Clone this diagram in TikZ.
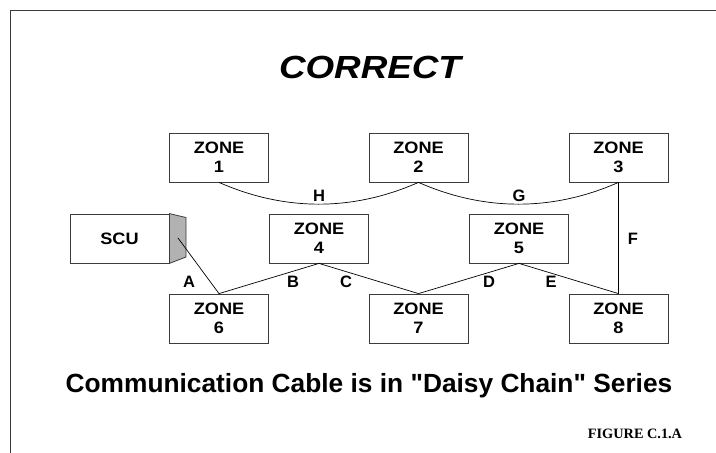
\documentclass[tikz,border=0pt]{standalone}
\usepackage{fontspec}
\setmainfont{Liberation Sans}[Ligatures=TeXOff]
\newfontfamily\zonefont{Liberation Sans}[FakeStretch=1.1]
\newfontfamily\titlefont{Liberation Sans}[FakeStretch=1.15]
\newfontfamily\figfont{Liberation Serif}
\definecolor{boxline}{RGB}{60,60,60}
\definecolor{facegray}{RGB}{178,178,178}
\begin{document}
\begin{tikzpicture}[x=1pt,y=-1pt,
  zonebox/.style={draw=boxline, line width=0.8pt, minimum width=99pt, minimum height=49pt,
    inner sep=0pt, align=center, font=\zonefont\bfseries\fontsize{16.5}{19}\selectfont},
  cable/.style={draw=black, line width=0.7pt},
  lbl/.style={anchor=base, inner sep=0pt, font=\bfseries\fontsize{16.5}{19}\selectfont},
  frameline/.style={draw=boxline, line width=0.9pt}]
\useasboundingbox (0,0) rectangle (716,453);
\draw[frameline] (10.5,453) -- (10.5,10.5) -- (716,10.5);

\node[anchor=base] (title) at (370,78) {\titlefont\bfseries\itshape\fontsize{32}{36}\selectfont CORRECT};

\node[zonebox] (z1) at (219,157.5) {ZONE\\1};
\node[zonebox] (z2) at (418.5,157.5) {ZONE\\2};
\node[zonebox] (z3) at (618.5,157.5) {ZONE\\3};
\node[zonebox] (z4) at (319,238.5) {ZONE\\4};
\node[zonebox] (z5) at (519,238.5) {ZONE\\5};
\node[zonebox] (z6) at (219,318.5) {ZONE\\6};
\node[zonebox] (z7) at (418.5,318.5) {ZONE\\7};
\node[zonebox] (z8) at (618.5,318.5) {ZONE\\8};
\node[zonebox] (scu) at (119.5,238.5) {SCU};

\filldraw[fill=facegray, draw=boxline, line width=0.8pt]
  (scu.north east) -- (186,217.5) -- (186,257) -- (scu.south east) -- cycle;
\coordinate (port) at (178,238);

\draw[cable] (port) -- (z6.north);
\draw[cable] (z6.north) -- (z4.south);
\draw[cable] (z4.south) -- (z7.north);
\draw[cable] (z7.north) -- (z5.south);
\draw[cable] (z5.south) -- (z8.north);
\draw[cable] (z8.north) -- (z3.south);
\draw[cable] (z3.south) .. controls +(-66,29) and +(66,29) .. (z2.south);
\draw[cable] (z2.south) .. controls +(-66,29) and +(66,29) .. (z1.south);

\node[lbl] (la) at (189,287.5) {A};
\node[lbl] (lb) at (293,287.5) {B};
\node[lbl] (lc) at (346,287.5) {C};
\node[lbl] (ld) at (489,287.5) {D};
\node[lbl] (le) at (551,287.5) {E};
\node[lbl] (lf) at (633,244) {F};
\node[lbl] (lg) at (519,201.7) {G};
\node[lbl] (lh) at (319,201.7) {H};

\node[anchor=base, inner sep=0pt] (caption) at (369,392)
  {\bfseries\fontsize{26.3}{30}\selectfont Communication Cable is in "Daisy Chain" Series};
\node[anchor=base, inner sep=0pt] (fig) at (635,438.5)
  {\figfont\bfseries\fontsize{14.3}{16}\selectfont FIGURE C.1.A};
\end{tikzpicture}
\end{document}
